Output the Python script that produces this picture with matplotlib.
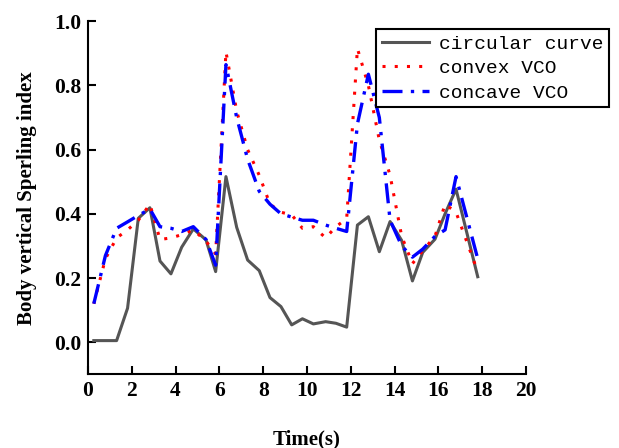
import matplotlib
matplotlib.use("Agg")
import matplotlib.pyplot as plt

# sample times (s)
t = [0.27, 0.80, 1.31, 1.81, 2.30, 2.83, 3.29, 3.79, 4.28, 4.81, 5.39, 5.83,
     6.30, 6.79, 7.29, 7.82, 8.31, 8.81, 9.30, 9.79, 10.29, 10.85, 11.32, 11.81,
     12.30, 12.80, 13.30, 13.79, 14.32, 14.81, 15.28, 15.84, 16.30, 16.80, 17.79]

circular = [0.005, 0.005, 0.005, 0.106, 0.386, 0.419, 0.253, 0.213, 0.296, 0.353, 0.319, 0.220,
            0.516, 0.358, 0.256, 0.223, 0.139, 0.111, 0.054, 0.073, 0.057, 0.064, 0.059, 0.047,
            0.365, 0.391, 0.282, 0.376, 0.317, 0.191, 0.280, 0.321, 0.400, 0.477, 0.204]

convex = [0.12, 0.26, 0.325, 0.35, 0.38, 0.43, 0.32, 0.325, 0.335, 0.35, 0.315, 0.275,
          0.905, 0.72, 0.60, 0.52, 0.43, 0.405, 0.397, 0.355, 0.36, 0.325, 0.36, 0.385,
          0.915, 0.80, 0.63, 0.52, 0.33, 0.245, 0.285, 0.33, 0.43, 0.405, 0.22]

concave = [0.12, 0.27, 0.355, 0.375, 0.395, 0.415, 0.36, 0.355, 0.345, 0.36, 0.32, 0.24,
           0.865, 0.70, 0.57, 0.47, 0.43, 0.40, 0.39, 0.38, 0.38, 0.365, 0.355, 0.345,
           0.68, 0.835, 0.70, 0.38, 0.30, 0.265, 0.29, 0.33, 0.35, 0.516, 0.26]

xticks = [0, 2, 4, 6, 8, 10, 12, 14, 16, 18, 20]
yticks = [0.0, 0.2, 0.4, 0.6, 0.8, 1.0]

fig = plt.figure(figsize=(6.19, 4.48), dpi=100)
ax = fig.add_axes([0.142, 0.1645, 0.708, 0.788])

ax.plot(t, circular, color="#555555", lw=2.2, label="circular curve")
ax.plot(t, convex, color="red", lw=2.2, ls=(0, (1, 3)), label="convex VCO")
ax.plot(t, concave, color="blue", lw=2.4, ls=(0, (6, 2.5, 1, 2.5)), label="concave VCO")

ax.set_xlim(0, 20)
ax.set_ylim(-0.1, 1.0)
ax.set_xticks(xticks)
ax.set_yticks(yticks)
ax.set_yticklabels([f"{v:.1f}" for v in yticks])

for s in ("top", "right"):
    ax.spines[s].set_visible(False)
for s in ("left", "bottom"):
    ax.spines[s].set_linewidth(1.5)

ax.tick_params(direction="in", length=6, width=1.5, labelsize=15.5, pad=5)
for lbl in ax.get_xticklabels() + ax.get_yticklabels():
    lbl.set_family("Liberation Serif")
    lbl.set_fontweight("bold")

ax.set_xlabel("Time(s)", family="Liberation Serif", fontweight="bold",
              fontsize=15, labelpad=20)
ax.set_ylabel("Body vertical Sperling index", family="Liberation Serif",
              fontweight="bold", fontsize=15, labelpad=12)

leg = fig.legend(loc="upper right", bbox_to_anchor=(609 / 619, 1 - 29.3 / 448),
                 borderaxespad=0, fancybox=False, edgecolor="black",
                 prop={"family": "Liberation Mono", "size": 14},
                 handlelength=2.4, labelspacing=0.35, borderpad=0.3,
                 handletextpad=0.5)
leg.get_frame().set_linewidth(1.5)
leg.get_frame().set_alpha(1)

fig.savefig("out.png", dpi=100)
